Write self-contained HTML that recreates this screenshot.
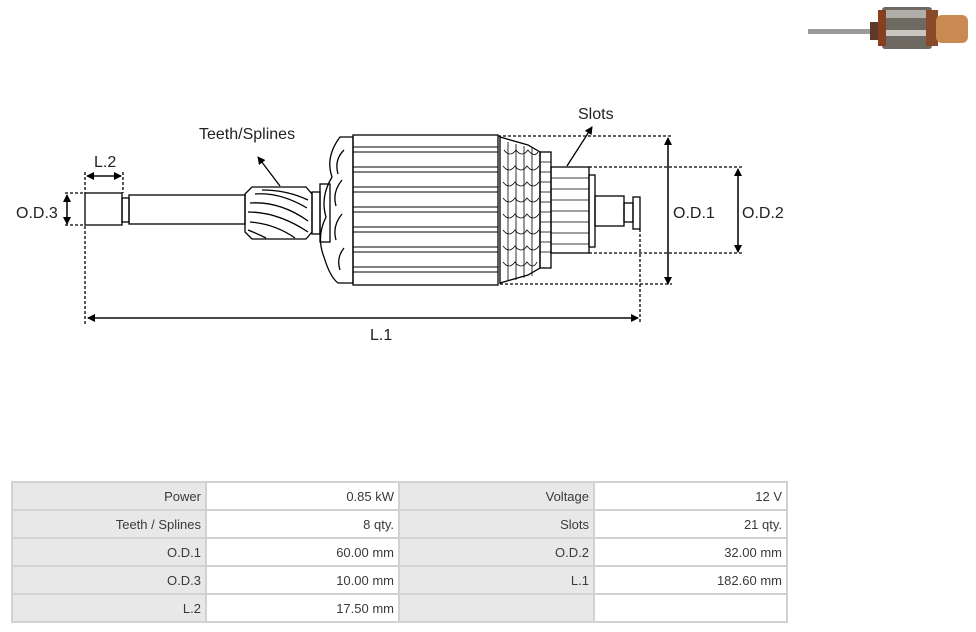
<!DOCTYPE html>
<html><head><meta charset="utf-8"><style>
body{margin:0;width:976px;height:632px;background:#fff;overflow:hidden;position:relative;font-family:"Liberation Sans",sans-serif}
svg{position:absolute;left:0;top:0}
table{position:absolute;left:11px;top:481px;border-collapse:collapse;font-size:13px;color:#3a3a3a}
tr{height:28px}
td{border:2px solid #d2d2d2;height:28px;padding:0 4px;text-align:right;box-sizing:border-box}
td.l{background:#e8e8e8}
</style></head><body>
<svg width="976" height="480" viewBox="0 0 976 480" font-family="Liberation Sans, sans-serif">
<defs><marker id="a" markerWidth="8" markerHeight="8" refX="7" refY="4" orient="auto" markerUnits="userSpaceOnUse"><path d="M0,0 L8,4 L0,8 Z" fill="#000"/></marker></defs>
<rect x="808" y="29" width="70" height="5" fill="#9a9a9a"/>
<rect x="870" y="22" width="14" height="18" fill="#5a3a2a"/>
<rect x="882" y="7" width="50" height="42" rx="3" fill="#6e6a62"/>
<rect x="886" y="10" width="42" height="8" fill="#b0aea8"/>
<rect x="886" y="30" width="42" height="6" fill="#c8c6c0"/>
<rect x="878" y="10" width="8" height="36" fill="#8a3e20"/>
<rect x="926" y="10" width="12" height="36" fill="#8a4a2a"/>
<rect x="936" y="15" width="32" height="28" rx="6" fill="#c98a52"/>
<g fill="none" stroke="#000" stroke-width="1.3">
<rect x="85" y="193" width="37" height="32"/>
<rect x="122" y="198" width="7" height="24"/>
<rect x="129" y="195" width="116" height="29"/>
<path d="M252,187 L306,187 L312,194 L312,232 L306,239 L252,239 L245,232 L245,194 Z"/>
<path d="M255,194 q25,-2 52,14 M250,203 q30,-2 58,18 M248,212 q30,0 60,20 M250,222 q25,2 45,16 M262,190 q25,0 46,10 M248,230 q10,4 18,8"/>
<rect x="312" y="192" width="8" height="42"/>
<rect x="320" y="184" width="10" height="58"/>
<path d="M340,137 q-15,20 -8,40 q-12,20 -6,40 q-10,20 -2,40 q6,20 14,26 L353,283 L353,137 Z"/>
<path d="M344,150 q-10,10 -6,24 M342,180 q-10,12 -6,26 M342,214 q-10,12 -6,26 M344,248 q-8,10 -4,22"/>
<rect x="353" y="135" width="145" height="150"/>
<path d="M353,147h145M353,152h145M353,167h145M353,172h145M353,187h145M353,192h145M353,207h145M353,212h145M353,227h145M353,232h145M353,247h145M353,252h145M353,267h145M353,272h145" stroke-width="0.9"/>
<path d="M500,137 L528,145 L540,152 L540,268 L528,275 L500,283 Z"/>
<path d="M504,150 q6,8 12,0 q6,8 12,0 q6,8 10,2 M503,166 q6,8 12,0 q6,8 12,0 q6,8 12,0 M503,182 q6,8 12,0 q6,8 12,0 q6,8 12,0 M503,198 q6,8 12,0 q6,8 12,0 q6,8 12,0 M503,214 q6,8 12,0 q6,8 12,0 q6,8 12,0 M503,230 q6,8 12,0 q6,8 12,0 q6,8 12,0 M503,246 q6,8 12,0 q6,8 12,0 q6,8 12,0 M503,262 q6,8 12,0 q6,8 12,0 q6,8 10,0 M508,142v138M516,144v136M524,146v132M532,148v128" stroke-width="0.8"/>
<rect x="540" y="152" width="11" height="116"/>
<path d="M540,162h11M540,172h11M540,182h11M540,192h11M540,202h11M540,212h11M540,222h11M540,232h11M540,242h11M540,252h11" stroke-width="0.8"/>
<rect x="551" y="167" width="38" height="86"/>
<path d="M551,178h38M551,189h38M551,200h38M551,211h38M551,222h38M551,233h38M551,244h38" stroke-width="0.8"/>
<rect x="589" y="175" width="6" height="72"/>
<rect x="595" y="196" width="29" height="30"/>
<rect x="624" y="203" width="9" height="19"/>
<rect x="633" y="197" width="7" height="32"/>
</g>
<g stroke="#000" stroke-width="1.3" stroke-dasharray="3,2" fill="none">
<path d="M498,136H672M589,167H742M589,253H742M500,284H672M640,229V324M85,226V324M85,172V193M123,172V193M65,193H85M65,225H85"/>
</g>
<g stroke="#000" stroke-width="1.3" fill="none">
<path d="M88,318H638" marker-end="url(#a)"/><path d="M638,318H88" marker-end="url(#a)"/>
<path d="M668,140V284" marker-end="url(#a)"/><path d="M668,284V138" marker-end="url(#a)"/>
<path d="M738,170V252" marker-end="url(#a)"/><path d="M738,252V169" marker-end="url(#a)"/>
<path d="M67,196V224" marker-end="url(#a)"/><path d="M67,224V195" marker-end="url(#a)"/>
<path d="M88,176H121" marker-end="url(#a)"/><path d="M121,176H87" marker-end="url(#a)"/>
<path d="M280,186L258,157" marker-end="url(#a)"/>
<path d="M567,166L592,127" marker-end="url(#a)"/>
</g>
<g font-size="16" fill="#222">
<text x="199" y="139">Teeth/Splines</text>
<text x="578" y="119">Slots</text>
<text x="94" y="167">L.2</text>
<text x="16" y="218">O.D.3</text>
<text x="673" y="218">O.D.1</text>
<text x="742" y="218">O.D.2</text>
<text x="370" y="340">L.1</text>
</g>
</svg>
<table>
<tr><td class="l" style="width:194px">Power</td><td style="width:193px">0.85 kW</td><td class="l" style="width:195px">Voltage</td><td style="width:193px">12 V</td></tr>
<tr><td class="l">Teeth / Splines</td><td>8 qty.</td><td class="l">Slots</td><td>21 qty.</td></tr>
<tr><td class="l">O.D.1</td><td>60.00 mm</td><td class="l">O.D.2</td><td>32.00 mm</td></tr>
<tr><td class="l">O.D.3</td><td>10.00 mm</td><td class="l">L.1</td><td>182.60 mm</td></tr>
<tr><td class="l">L.2</td><td>17.50 mm</td><td class="l"></td><td></td></tr>
</table>
</body></html>
